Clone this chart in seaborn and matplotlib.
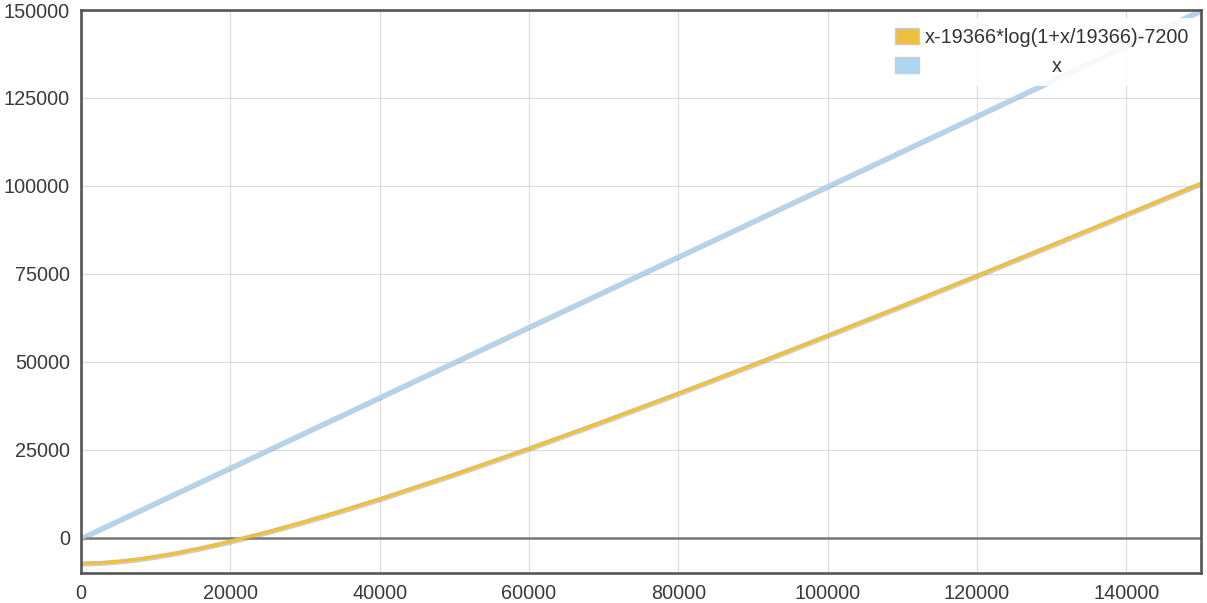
import matplotlib
matplotlib.use("Agg")
import matplotlib.pyplot as plt
import matplotlib.patheffects as pe
from matplotlib.patches import Patch
import seaborn as sns
import pandas as pd

# ---- data ----
x_curve = [0, 2500, 5000, 7500, 10000, 12500, 15000, 17500, 20000, 25000, 30000, 35000,
           40000, 50000, 60000, 70000, 80000, 90000, 100000, 110000, 120000, 130000,
           140000, 150000]
y_curve = [-7200, -7050, -6650, -6040, -5260, -4350, -3310, -2170, -940, 1750, 4680, 7810,
           11110, 18090, 25480, 33190, 41130, 49270, 57580, 66020, 74580, 83240,
           91980, 100800]
x_line = [0, 50000, 100000, 150000]
y_line = [0, 50000, 100000, 150000]
label_curve = "x-19366*log(1+x/19366)-7200"
label_line = "x"
x_ticks = [0, 20000, 40000, 60000, 80000, 100000, 120000, 140000]
y_ticks = [0, 25000, 50000, 75000, 100000, 125000, 150000]

color_curve = "#EEC03C"
color_line = "#AED6F3"

sns.set_style("white")
plt.rcParams["font.family"] = ["Liberation Sans", "DejaVu Sans"]

fig = plt.figure(figsize=(12.07, 6.03), dpi=100)
ax = fig.add_axes([81 / 1207, 1 - 573 / 603, 1120 / 1207, 563 / 603])

df_c = pd.DataFrame({"x": x_curve, "y": y_curve})
df_l = pd.DataFrame({"x": x_line, "y": y_line})

shadow = [pe.SimpleLineShadow(offset=(0.8, -0.8), shadow_color="#999999", alpha=0.5, linewidth=3.2), pe.Normal()]
sns.lineplot(data=df_l, x="x", y="y", ax=ax, color=color_line, lw=2.6, zorder=3,
             path_effects=shadow)
sns.lineplot(data=df_c, x="x", y="y", ax=ax, color=color_curve, lw=2.4, zorder=3,
             path_effects=shadow)

ax.axhline(0, color="#777777", lw=1.8, zorder=2)

ax.set_xlim(0, 150000)
ax.set_ylim(-10000, 150000)
ax.set_xticks(x_ticks)
ax.set_yticks(y_ticks)
ax.set_xticklabels([str(t) for t in x_ticks])
ax.set_yticklabels([str(t) for t in y_ticks])
ax.grid(True, color="#dddddd", lw=0.9)
ax.set_axisbelow(True)
ax.tick_params(axis="both", labelsize=14.3, colors="#3a3a3a", length=0)
ax.tick_params(axis="x", pad=8)
ax.tick_params(axis="y", pad=8)
ax.set_xlabel("")
ax.set_ylabel("")
for s in ax.spines.values():
    s.set_color("#555555")
    s.set_linewidth(1.9)
    s.set_zorder(5)

handles = [Patch(facecolor=color_curve, edgecolor="#cccccc", lw=1.0),
           Patch(facecolor=color_line, edgecolor="#cccccc", lw=1.0)]
leg = ax.legend(handles, [label_curve, label_line], loc="upper right",
                bbox_to_anchor=((1199 - 81) / 1120, 1 - 8 / 563),
                frameon=True, framealpha=0.88, edgecolor="none", facecolor="white",
                fontsize=14.3, handlelength=1.2, handleheight=0.8, handletextpad=0.3,
                labelspacing=0.5, borderpad=0.5, borderaxespad=0, fancybox=False,
                labelcolor="#333333")
leg.set_zorder(4)
fig.canvas.draw()
texts = leg.get_texts()
r = fig.canvas.get_renderer()
w0 = texts[0].get_window_extent(r).width
w1 = texts[1].get_window_extent(r).width
texts[1].set_position(((w0 - w1) / 2, 0))

fig.savefig("out.png", dpi=100)
